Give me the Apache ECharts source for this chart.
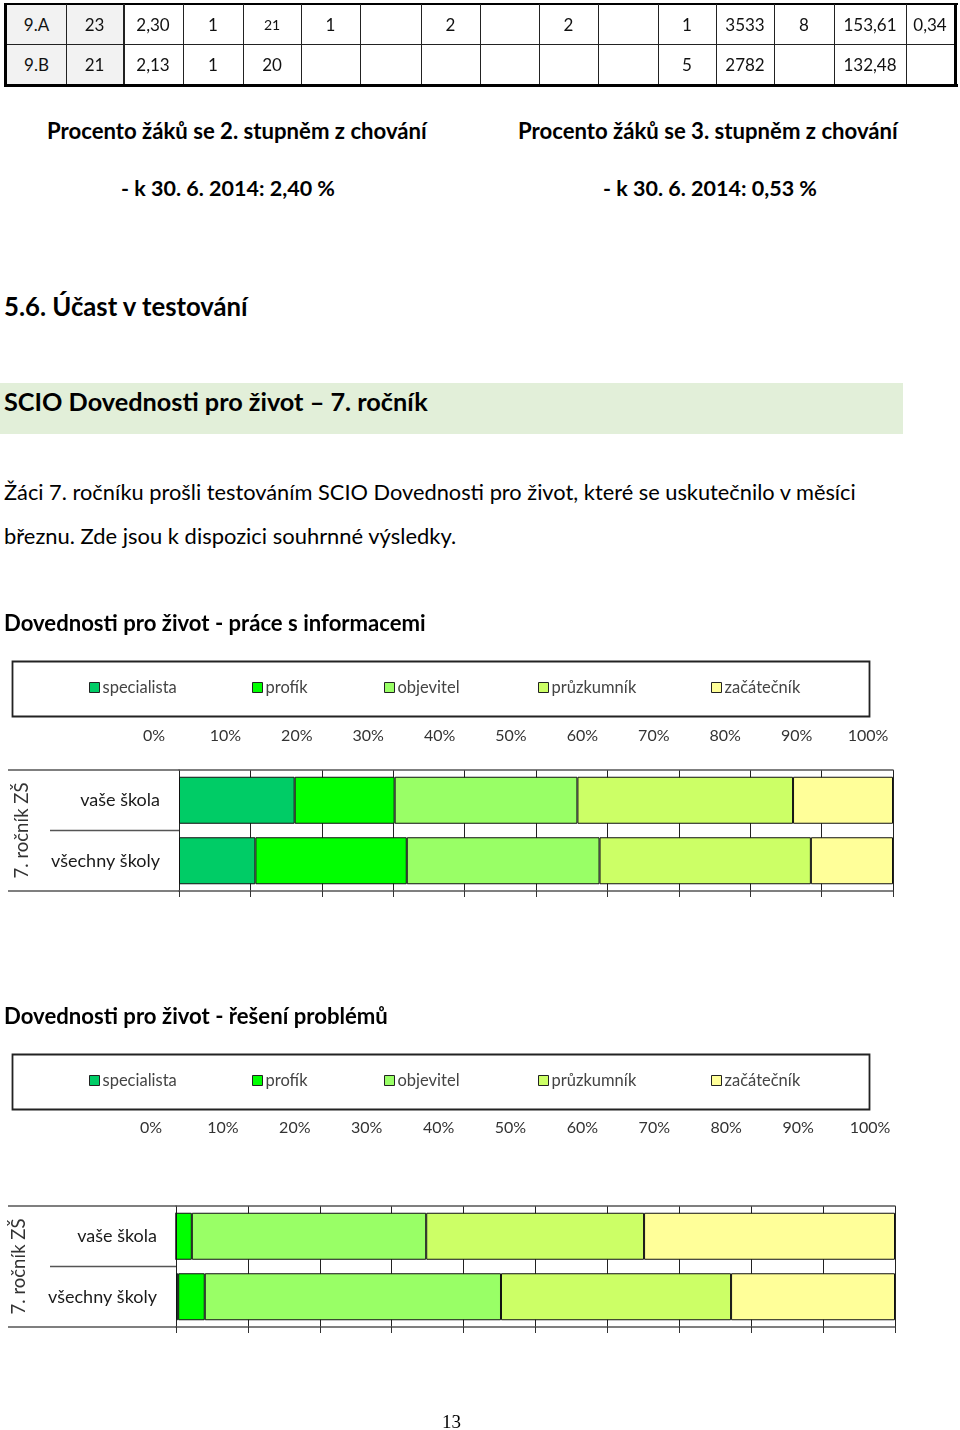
<!DOCTYPE html>
<html>
<head>
<meta charset="utf-8">
<script src="https://cdn.jsdelivr.net/npm/echarts@6/dist/echarts.min.js"></script>
<style>
html,body{margin:0;padding:0;background:#fff;}
#page{position:relative;width:960px;height:1430px;overflow:hidden;font-family:Lato,'Noto Sans',sans-serif;color:#000;}
.t{position:absolute;white-space:nowrap;line-height:1;}
.cell{position:absolute;display:flex;align-items:center;justify-content:center;font-size:17px;color:#111;box-sizing:border-box;}
.ln{position:absolute;background:#000;}
#chart{position:absolute;left:0;top:0;width:960px;height:1430px;}
</style>
</head>
<body>
<div id="page">
  <div style="position:absolute;left:0;top:383px;width:903px;height:51px;background:#e2efd9;"></div>
  <div id="chart"></div>
</div>
<script>
// ---------------- DATA ----------------
const tableRow1 = ['9.A','23','2,30','1','21','1','','2','','2','','1','3533','8','153,61','0,34'];
const tableRow2 = ['9.B','21','2,13','1','20','','','','','','','5','2782','','132,48',''];

const categories = ['vaše škola', 'všechny školy'];
const levels = ['specialista', 'profík', 'objevitel', 'průzkumník', 'začátečník'];
// Dovednosti pro život - práce s informacemi (percent)
const infoVaseSkola    = [16.2, 14.0, 25.6, 30.2, 14.0];
const infoVsechnySkoly = [10.7, 21.2, 27.0, 29.6, 11.5];
// Dovednosti pro život - řešení problémů (percent)
const probVaseSkola    = [0.0, 2.2, 32.6, 30.3, 34.9];
const probVsechnySkoly = [0.3, 3.7, 41.2, 32.0, 22.8];
const groupLabel = '7. ročník ZŠ';
const chartTitle1 = 'Dovednosti pro život - práce s informacemi';
const chartTitle2 = 'Dovednosti pro život - řešení problémů';

// ---------------- STYLE ----------------
const levelColors = ['#00cc66', '#00ff00', '#99ff66', '#ccff66', '#ffff99'];
const FONT = 'Lato';
const page = document.getElementById('page');

const cv = document.createElement('canvas').getContext('2d');
function fitSize(text, weight, family, target) {
  cv.font = weight + ' 100px ' + family;
  return 100 * target / cv.measureText(text).width;
}
function addText(text, x, yc, target, weight, family) {
  family = family || FONT;
  const s = fitSize(text, weight, family, target);
  const d = document.createElement('div');
  d.className = 't';
  d.textContent = text;
  d.style.fontFamily = family;
  d.style.fontWeight = weight;
  d.style.fontSize = s + 'px';
  d.style.left = x + 'px';
  d.style.top = (yc - s * 0.5) + 'px';
  page.insertBefore(d, document.getElementById('chart'));
}

// ---------------- TABLE ----------------
const colX = [7, 66, 123, 183, 243, 301, 360, 421, 480, 539, 598, 658, 716, 774, 834, 906, 954];
const rowY = [4, 44, 84];
[tableRow1, tableRow2].forEach((row, r) => {
  row.forEach((v, c) => {
    const d = document.createElement('div');
    d.className = 'cell';
    d.style.left = colX[c] + 'px';
    d.style.top = rowY[r] + 'px';
    d.style.width = (colX[c + 1] - colX[c]) + 'px';
    d.style.height = (rowY[r + 1] - rowY[r]) + 'px';
    if (c < 2) d.style.background = '#f2f2f2';
    if (r === 0 && c === 4) d.style.fontSize = '14px';
    d.textContent = v;
    page.appendChild(d);
  });
});
function line(x, y, w, h, col) {
  const d = document.createElement('div');
  d.className = 'ln';
  d.style.left = x + 'px'; d.style.top = y + 'px';
  d.style.width = w + 'px'; d.style.height = h + 'px';
  if (col) d.style.background = col;
  page.appendChild(d);
}
line(4, 3, 954, 1.5);
line(7, 43.5, 948, 1.2, '#222');
line(4, 84, 954, 3);
line(4, 3, 3, 84);
line(954, 3, 3, 84);
colX.slice(1, -1).forEach((x, i) => line(x - 0.5, 4, i === 1 ? 2.5 : 1.2, 80, '#222'));

// ---------------- TEXTS ----------------
addText('Procento žáků se 2. stupněm z chování', 47, 131, 380, 'bold');
addText('Procento žáků se 3. stupněm z chování', 518, 131, 380, 'bold');
addText('- k 30. 6. 2014: 2,40 %', 121, 189, 214, 'bold');
addText('- k 30. 6. 2014: 0,53 %', 603, 189, 214, 'bold');
addText('5.6. Účast v testování', 4, 307, 245, 'bold');
addText('SCIO Dovednosti pro život – 7. ročník', 4, 402, 424, 'bold');
addText('Žáci 7. ročníku prošli testováním SCIO Dovednosti pro život, které se uskutečnilo v měsíci', 4, 492, 853, 'normal');
addText('březnu. Zde jsou k dispozici souhrnné výsledky.', 4, 536, 453, 'normal');
(function(){
  const d = document.createElement('div');
  d.className = 't';
  d.textContent = '13';
  d.style.fontFamily = "'Liberation Serif', serif";
  d.style.fontSize = '19px';
  d.style.left = '442px';
  d.style.top = '1412px';
  page.appendChild(d);
})();

// ---------------- CHART ----------------
const chart = echarts.init(document.getElementById('chart'), null, {renderer: 'canvas'});
const grids = [
  {left: 179, top: 770, width: 714, height: 121},
  {left: 176, top: 1206, width: 719, height: 121}
];
const legendTops = [661, 1054];
const labelTops = [736, 1128];
const legendX = [89, 252, 384, 538, 711];
const titleSize1 = fitSize(chartTitle1, 'bold', FONT, 422);
const titleSize2 = fitSize(chartTitle2, 'bold', FONT, 384);

const xAxes = [], yAxes = [], series = [], legends = [], graphics = [];
const seriesData = [[infoVaseSkola, infoVsechnySkoly], [probVaseSkola, probVsechnySkoly]];

grids.forEach((g, gi) => {
  xAxes.push({
    gridIndex: gi, type: 'value', min: 0, max: 100, interval: 10, position: 'top',
    axisLine: {show: true, lineStyle: {color: '#555', width: 1.5}},
    axisTick: {show: false},
    axisLabel: {
      formatter: '{value}%', fontFamily: FONT, fontSize: 16, color: '#333',
      margin: g.top - labelTops[gi] - 8, padding: [0, 50, 0, 0]
    },
    splitLine: {show: true, lineStyle: {color: '#222', width: 1}}
  });
  xAxes.push({
    gridIndex: gi, type: 'value', min: 0, max: 100, interval: 10, position: 'bottom',
    axisLine: {show: true, lineStyle: {color: '#555', width: 1.5}},
    axisTick: {show: true, length: 6, lineStyle: {color: '#333'}},
    axisLabel: {show: false}, splitLine: {show: false}
  });
  yAxes.push({
    gridIndex: gi, type: 'category', inverse: true, data: categories,
    axisLine: {show: true, lineStyle: {color: '#222', width: 1}},
    axisTick: {show: false},
    axisLabel: {fontFamily: FONT, fontSize: 18, color: '#1a1a1a', margin: 19}
  });
  levels.forEach((name, li) => {
    series.push({
      type: 'bar', name: name, stack: 'g' + gi, xAxisIndex: gi * 2, yAxisIndex: gi,
      barWidth: 47,
      itemStyle: {color: levelColors[li], borderColor: '#111', borderWidth: 1},
      data: seriesData[gi].map(arr => arr[li])
    });
    legends.push({
      data: [name], left: legendX[li], top: legendTops[gi] + 18, padding: 0,
      itemWidth: 10, itemHeight: 10, itemGap: 0, icon: 'rect', selectedMode: false,
      itemStyle: {borderColor: '#222', borderWidth: 1},
      textStyle: {fontFamily: FONT, fontSize: 16.5, color: '#444', padding: [0, 0, 0, -2]}
    });
  });
  // legend frame
  graphics.push({type: 'rect', shape: {x: 12.5, y: legendTops[gi] + 0.5, width: 857, height: 55},
    style: {fill: 'none', stroke: '#222', lineWidth: 1.8}, silent: true});
  // category structure lines
  const lineStyle = {stroke: '#555', lineWidth: 1.5};
  graphics.push({type: 'line', shape: {x1: 8, y1: g.top, x2: g.left, y2: g.top}, style: lineStyle, silent: true});
  graphics.push({type: 'line', shape: {x1: 8, y1: g.top + g.height, x2: g.left, y2: g.top + g.height}, style: lineStyle, silent: true});
  graphics.push({type: 'line', shape: {x1: 50, y1: g.top + g.height / 2, x2: g.left, y2: g.top + g.height / 2}, style: lineStyle, silent: true});
  graphics.push({type: 'text', x: gi === 0 ? 22 : 19, y: g.top + g.height / 2, rotation: Math.PI / 2,
    style: {text: groupLabel, font: '18.5px ' + FONT, fill: '#333', align: 'center', verticalAlign: 'middle'}, silent: true});
});

chart.setOption({
  animation: false,
  title: [
    {text: chartTitle1, left: 4, top: 623 - titleSize1 * 0.48, padding: 0,
     textStyle: {fontFamily: FONT, fontWeight: 'bold', fontSize: titleSize1, color: '#000'}},
    {text: chartTitle2, left: 4, top: 1016 - titleSize2 * 0.48, padding: 0,
     textStyle: {fontFamily: FONT, fontWeight: 'bold', fontSize: titleSize2, color: '#000'}}
  ],
  grid: grids,
  xAxis: xAxes,
  yAxis: yAxes,
  legend: legends,
  series: series,
  graphic: graphics
});
</script>
</body>
</html>
